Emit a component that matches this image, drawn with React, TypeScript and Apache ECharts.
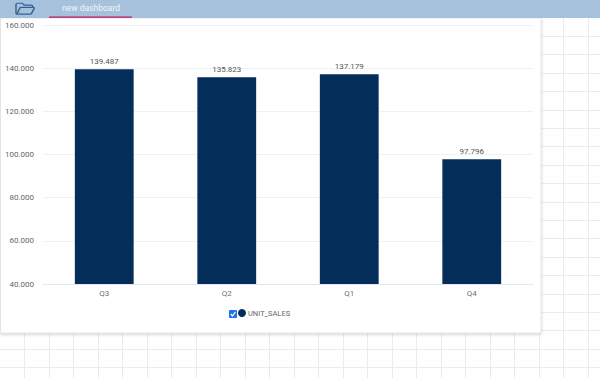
import React, { useEffect, useRef } from "react";
import * as echarts from "echarts";

const categories = ["Q3", "Q2", "Q1", "Q4"];
const unitSales = [139487, 135823, 137179, 97796];
const seriesName = "UNIT_SALES";
const tabTitle = "new dashboard";

const NAVY = "#042d5a";
const fmt = (v: number) => {
  const s = String(Math.round(v));
  return s.slice(0, -3) + "." + s.slice(-3);
};

echarts.graphic.registerShape(
  "folderIcon",
  echarts.graphic.extendPath(
    "M1 15V2.5C1 1.7 1.7 1 2.5 1H7.5L9.5 3.5H16.5C17.3 3.5 18 4.2 18 5V6.5H6.5C5.7 6.5 5 7 4.8 7.7L2 15.5H15.5C16.2 15.5 16.8 15 17 14.4L19.6 7.6C19.8 7 19.4 6.5 18.8 6.5",
    {}
  )
);

export default function App() {
  const ref = useRef<HTMLDivElement>(null);
  useEffect(() => {
    const chart = echarts.init(ref.current!, undefined, { renderer: "svg" });
    const bg: any[] = [];
    const lineStyle = { stroke: "#ebebeb", lineWidth: 1 };
    for (let i = 0; i < 25; i++) {
      const x = Math.round(24 + i * 24.5) + 0.5;
      bg.push({ type: "line", z: -10, silent: true, shape: { x1: x, y1: 0, x2: x, y2: 378 }, style: lineStyle });
    }
    for (let i = 0; i < 20; i++) {
      const y = Math.round(36 + i * 18.4) + 0.5;
      bg.push({ type: "line", z: -10, silent: true, shape: { x1: 0, y1: y, x2: 600, y2: y }, style: lineStyle });
    }
    chart.setOption({
      animation: false,
      backgroundColor: "#ffffff",
      grid: { left: 43, right: 67, top: 25, bottom: 94 },
      legend: {
        left: 238,
        top: 309,
        icon: "circle",
        itemWidth: 8,
        itemHeight: 8,
        itemGap: 5,
        selectedMode: false,
        padding: 0,
        data: [seriesName],
        textStyle: { fontFamily: "Roboto", fontSize: 7.5, color: "#666", padding: [0, 0, 0, -3] },
      },
      xAxis: {
        type: "category",
        data: categories,
        axisTick: { show: false },
        axisLine: { lineStyle: { color: "#e0e6f1" } },
        axisLabel: { fontFamily: "Roboto", fontSize: 8, color: "#6e7079", margin: 5 },
      },
      yAxis: {
        type: "value",
        min: 40000,
        max: 160000,
        interval: 20000,
        axisLabel: { fontFamily: "Roboto", fontSize: 8, color: "#666", margin: 9, formatter: fmt },
        splitLine: { lineStyle: { color: "#eff1f5" } },
      },
      series: [
        {
          type: "bar",
          name: seriesName,
          data: unitSales,
          barWidth: "48%",
          itemStyle: { color: NAVY },
          label: {
            show: true,
            position: "top",
            distance: 4,
            fontFamily: "Roboto",
            fontSize: 8,
            color: "#555",
            formatter: (p: any) => fmt(p.value),
          },
        },
      ],
      graphic: [
        ...bg,
        { type: "rect", z: -5, silent: true, shape: { x: 0.5, y: 18, width: 540.5, height: 315 }, style: { fill: "#fff", stroke: "#e4e4e4", lineWidth: 1, shadowBlur: 3, shadowColor: "rgba(0,0,0,0.2)", shadowOffsetY: 1 } },
        { type: "rect", z: 5, silent: true, shape: { x: 0, y: 0, width: 600, height: 18 }, style: { fill: "#a6c1dc" } },
        { type: "folderIcon", z: 6, silent: true, x: 15, y: 2.5, scaleX: 0.98, scaleY: 0.75, style: { fill: "none", stroke: "#2f6496", lineWidth: 1.5 } },
        { type: "text", z: 6, silent: true, x: 62, y: 3.5, style: { text: tabTitle, fontFamily: "Roboto", fontSize: 8.5, fill: "#f2f6fa" } },
        { type: "rect", z: 6, silent: true, shape: { x: 49, y: 16.5, width: 83, height: 1.2 }, style: { fill: "#c2185b" } },
        { type: "rect", z: 6, silent: true, shape: { x: 229, y: 310, width: 8, height: 8, r: 1 }, style: { fill: "#1a73e8" } },
        { type: "polyline", z: 7, silent: true, shape: { points: [[230.8, 314], [232.5, 316], [235.5, 311.8]] }, style: { fill: "none", stroke: "#fff", lineWidth: 1.2 } },
      ],
    });
    return () => chart.dispose();
  }, []);
  return <div ref={ref} style={{ position: "absolute", left: 0, top: 0, width: 600, height: 378 }} />;
}
